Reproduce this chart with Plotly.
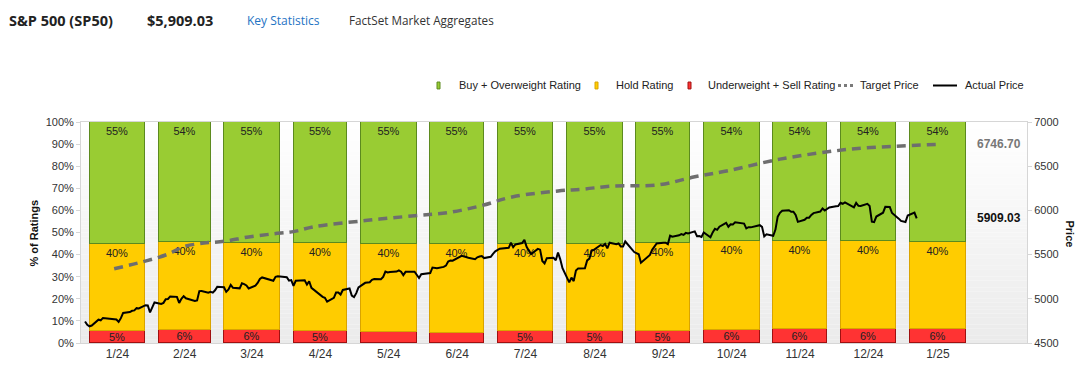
import pandas as pd
import plotly.graph_objects as go

# ---------------- data ----------------
month_starts = pd.date_range("2024-01-01", periods=13, freq="MS")
month_labels = ["1/24", "2/24", "3/24", "4/24", "5/24", "6/24", "7/24",
                "8/24", "9/24", "10/24", "11/24", "12/24", "1/25"]
buy_pct = [55.1, 54.3, 54.6, 54.6, 55.1, 55.1, 55.1, 55.1, 54.6, 53.8, 53.9, 53.9, 54.2]
hold_pct = [39.5, 39.7, 39.5, 40.0, 40.0, 40.3, 39.5, 39.5, 40.0, 40.4, 39.8, 39.8, 39.5]
sell_pct = [5.4, 6.0, 5.9, 5.4, 4.9, 4.6, 5.4, 5.4, 5.4, 5.8, 6.3, 6.3, 6.3]

market_holidays = ["2024-01-15", "2024-02-19", "2024-03-29", "2024-05-27", "2024-06-19",
                   "2024-07-04", "2024-09-02", "2024-11-28", "2024-12-25", "2025-01-01"]
actual_price = [
    # Jan 2024
    4742.83, 4704.81, 4688.68, 4697.24, 4763.54, 4756.50, 4783.45, 4780.24, 4783.83, 4765.98,
    4739.21, 4780.94, 4839.81, 4850.43, 4864.60, 4868.55, 4894.16, 4890.97, 4927.93, 4924.97, 4845.65,
    # Feb
    4906.19, 4958.61, 4942.81, 4954.23, 4995.06, 4997.91, 5026.61, 5021.84, 4953.17, 5000.62,
    5029.73, 5005.57, 4975.51, 4981.80, 5087.03, 5088.80, 5069.53, 5078.18, 5069.76, 5096.27,
    # Mar
    5137.08, 5130.95, 5078.65, 5104.76, 5157.36, 5123.69, 5117.94, 5175.27, 5165.31, 5150.48,
    5117.09, 5149.42, 5178.51, 5224.62, 5241.53, 5234.18, 5218.19, 5203.58, 5248.49, 5254.35,
    # Apr
    5243.77, 5205.81, 5211.49, 5147.21, 5204.34, 5202.39, 5209.91, 5160.64, 5199.06, 5123.41,
    5061.82, 5051.41, 5022.21, 5011.12, 4967.23, 5010.60, 5070.55, 5071.63, 5048.42, 5099.96,
    5116.17, 5035.69,
    # May
    5018.39, 5064.20, 5127.79, 5180.74, 5187.70, 5187.67, 5214.08, 5222.68, 5221.42, 5246.68,
    5308.15, 5297.10, 5303.27, 5308.13, 5321.41, 5307.01, 5267.84, 5304.72, 5306.04, 5266.95,
    5235.48, 5277.51,
    # Jun
    5283.40, 5291.34, 5354.03, 5352.96, 5346.99, 5360.79, 5375.32, 5421.03, 5433.74, 5431.60,
    5473.23, 5487.03, 5473.17, 5464.62, 5447.87, 5469.30, 5477.90, 5482.87, 5460.48,
    # Jul
    5475.09, 5509.01, 5537.02, 5567.19, 5572.85, 5576.98, 5633.91, 5584.54, 5615.35, 5631.22,
    5667.20, 5588.27, 5544.59, 5505.00, 5564.41, 5555.74, 5427.13, 5399.22, 5459.10, 5463.54,
    5436.44, 5522.30,
    # Aug
    5446.68, 5346.56, 5186.33, 5240.03, 5199.50, 5319.31, 5344.16, 5344.39, 5434.43, 5455.21,
    5543.22, 5554.25, 5608.25, 5597.12, 5620.85, 5570.64, 5634.61, 5616.84, 5625.80, 5592.18,
    5591.96, 5648.40,
    # Sep
    5528.93, 5520.07, 5503.41, 5408.42, 5471.05, 5495.52, 5554.13, 5595.76, 5626.02, 5633.09,
    5634.58, 5618.26, 5713.64, 5702.55, 5718.57, 5732.93, 5722.26, 5745.37, 5738.17, 5762.48,
    # Oct
    5708.75, 5709.54, 5699.94, 5751.07, 5695.94, 5751.13, 5792.04, 5780.05, 5815.03, 5859.85,
    5815.26, 5842.47, 5841.47, 5864.67, 5853.98, 5851.20, 5797.42, 5809.86, 5808.12, 5823.52,
    5832.92, 5813.67, 5705.45,
    # Nov
    5728.80, 5712.69, 5782.76, 5929.04, 5973.10, 5995.54, 6001.35, 5983.99, 5985.38, 5949.17,
    5870.62, 5893.62, 5916.98, 5917.11, 5948.71, 5969.34, 5987.37, 6021.63, 5998.74, 6032.38,
    # Dec
    6047.15, 6049.88, 6086.49, 6075.11, 6090.27, 6052.85, 6034.91, 6084.19, 6051.25, 6051.09,
    6074.08, 6050.61, 5872.16, 5867.08, 5930.85, 5974.07, 6040.04, 6037.59, 5970.84, 5906.94,
    5881.63,
    # Jan 2025
    5868.55, 5942.47, 5975.38, 5909.03,
]

target_dates = ["2024-01-15", "2024-01-28", "2024-02-08", "2024-02-15", "2024-02-24",
                "2024-03-04", "2024-03-15", "2024-03-26", "2024-04-04", "2024-04-13",
                "2024-05-06", "2024-05-28", "2024-06-12", "2024-06-27", "2024-07-11",
                "2024-07-31", "2024-08-11", "2024-08-24", "2024-09-14", "2024-09-30",
                "2024-10-15", "2024-11-07", "2024-11-29", "2024-12-14", "2025-01-17"]
target_price = [5340, 5420, 5505, 5590, 5630, 5650, 5700, 5735, 5760, 5815,
                5885, 5940, 5975, 6055, 6155, 6220, 6240, 6275, 6290, 6380,
                6450, 6580, 6665, 6705, 6746.70]

# ---------------- derived ----------------
price_dates = pd.bdate_range("2024-01-02", "2025-01-07")
price_dates = price_dates[~price_dates.isin(pd.to_datetime(market_holidays))]

days_in_month = month_starts.days_in_month
bar_centers = [m + pd.Timedelta(days=d / 2) for m, d in zip(month_starts, days_in_month)]
bar_widths = [0.8 * d * 86400000 for d in days_in_month]

def pct_labels(vals):
    return [f"{v:.0f}%" if v >= 5 else "" for v in vals]

# ---------------- layout geometry ----------------
# the page body adds an 8px margin, so the figure is drawn 8px right/down
OFF = 8
W, H = 1086 - OFF, 373 - OFF
L, R, T, B = 81 - OFF, 1027 - OFF, 122 - OFF, 346 - OFF

def px(x):
    return (x - OFF - L) / (R - L)

def py(y):
    return (B - (y - OFF)) / (B - T)

FONT = "Arial"

fig = go.Figure()

bar_common = dict(x=bar_centers, width=bar_widths, textposition="inside",
                  constraintext="none", textangle=0, cliponaxis=False,
                  textfont=dict(family=FONT, size=11, color="#222222"),
                  hoverinfo="skip", showlegend=False)

fig.add_trace(go.Bar(y=sell_pct, text=pct_labels(sell_pct), insidetextanchor="middle",
                     marker=dict(color="#ff3333", line=dict(color="#a01010", width=1)),
                     name="Underweight + Sell Rating", **bar_common))
fig.add_trace(go.Bar(y=hold_pct, text=pct_labels(hold_pct), insidetextanchor="end",
                     marker=dict(color="#ffcc00", line=dict(color="#d9a400", width=1)),
                     name="Hold Rating", **bar_common))
fig.add_trace(go.Bar(y=buy_pct, text=pct_labels(buy_pct), insidetextanchor="end",
                     marker=dict(color="#99cc33", line=dict(color="#5c8a1e", width=1)),
                     name="Buy + Overweight Rating", **bar_common))

fig.add_trace(go.Scatter(x=pd.to_datetime(target_dates), y=target_price, yaxis="y2",
                         mode="lines", line=dict(color="#6e6e6e", width=3.5, dash="9px,6px", shape="spline"),
                         name="Target Price", showlegend=False, hoverinfo="skip"))
fig.add_trace(go.Scatter(x=price_dates, y=actual_price, yaxis="y2",
                         mode="lines", line=dict(color="#000000", width=2),
                         name="Actual Price", showlegend=False, hoverinfo="skip"))

# background gradient
shapes = []
N = 60
for i in range(N):
    f = i / (N - 1)
    c = int(round(255 - 20 * f))
    shapes.append(dict(type="rect", xref="paper", yref="paper", layer="below",
                       x0=0, x1=1, y0=1 - (i + 1) / N, y1=1 - i / N,
                       line=dict(width=0), fillcolor=f"rgb({c},{c},{c})"))

# manual legend
leg_y = 85
for x0, fill, edge in [(437, "#99cc33", "#5c8a1e"), (595, "#ffcc00", "#d9a400"), (688, "#ff3333", "#a01010")]:
    shapes.append(dict(type="rect", xref="paper", yref="paper", x0=px(x0), x1=px(x0 + 3),
                       y0=py(leg_y + 3.5), y1=py(leg_y - 3.5), fillcolor=fill,
                       line=dict(color=edge, width=1)))
shapes.append(dict(type="line", xref="paper", yref="paper", x0=px(838), x1=px(855),
                   y0=py(leg_y), y1=py(leg_y), line=dict(color="#7a7a7a", width=3, dash="3px,3px")))
shapes.append(dict(type="line", xref="paper", yref="paper", x0=px(933), x1=px(957),
                   y0=py(leg_y), y1=py(leg_y), line=dict(color="#000000", width=2)))

annotations = []
for x0, txt in [(457, "Buy + Overweight Rating"), (614, "Hold Rating"),
                (706, "Underweight + Sell Rating"), (858, "Target Price"), (963, "Actual Price")]:
    annotations.append(dict(xref="paper", yref="paper", x=px(x0), y=py(leg_y), text=txt,
                            xanchor="left", yanchor="middle", showarrow=False,
                            font=dict(family=FONT, size=11, color="#222222")))

# header
HFONT = "Open Sans, sans-serif"
for x0, txt, col, size in [(7, "<b>S&amp;P 500 (SP50)</b>", "#222222", 14.5),
                           (145, "<b>$5,909.03</b>", "#222222", 14.5),
                           (245, "Key Statistics", "#1f74c4", 12),
                           (347, "FactSet Market Aggregates", "#333333", 11.7)]:
    annotations.append(dict(xref="paper", yref="paper", x=px(x0), y=py(19), text=txt,
                            xanchor="left", yanchor="middle", showarrow=False,
                            font=dict(family=HFONT, size=size, color=col)))

# end-value labels
annotations.append(dict(xref="paper", yref="y2", x=1, xshift=-4, y=target_price[-1],
                        text=f"<b>{target_price[-1]:.2f}</b>", xanchor="right", yanchor="middle",
                        showarrow=False, font=dict(family=FONT, size=12, color="#777777")))
annotations.append(dict(xref="paper", yref="y2", x=1, xshift=-4, y=actual_price[-1],
                        text=f"<b>{actual_price[-1]:.2f}</b>", xanchor="right", yanchor="middle",
                        showarrow=False, font=dict(family=FONT, size=12, color="#111111")))
# axis titles
annotations.append(dict(xref="paper", yref="paper", x=px(34), y=py(235), text="<b>% of Ratings</b>",
                        textangle=-90, showarrow=False, xanchor="center", yanchor="middle",
                        font=dict(family=FONT, size=11, color="#111111")))
annotations.append(dict(xref="paper", yref="paper", x=px(1070), y=py(235), text="<b>Price</b>",
                        textangle=90, showarrow=False, xanchor="center", yanchor="middle",
                        font=dict(family=FONT, size=11, color="#111111")))

fig.update_layout(
    width=W, height=H,
    margin=dict(l=L, r=W - R, t=T, b=H - B, pad=0),
    paper_bgcolor="#ffffff", plot_bgcolor="#ffffff",
    barmode="stack", bargap=0,
    showlegend=False,
    font=dict(family=FONT, size=11, color="#333333"),
    shapes=shapes, annotations=annotations,
    xaxis=dict(type="date", range=["2023-12-31 05:00", "2025-02-25 05:00"],
               tickvals=bar_centers, ticktext=month_labels, ticks="",
               showgrid=False, zeroline=False, showline=True, linecolor="#d6d6d6",
               linewidth=1, mirror=True, tickfont=dict(family=FONT, size=12, color="#333333")),
    yaxis=dict(range=[0, 100], tickvals=list(range(0, 101, 10)),
               ticktext=[f"{v}%" for v in range(0, 101, 10)],
               ticks="outside", ticklen=4, tickcolor="#d6d6d6",
               showgrid=False, zeroline=False, showline=True, linecolor="#d6d6d6",
               tickfont=dict(family=FONT, size=11, color="#333333")),
    yaxis2=dict(range=[4500, 7000], overlaying="y", side="right",
                tickvals=[4500, 5000, 5500, 6000, 6500, 7000],
                ticks="outside", ticklen=4, tickcolor="#d6d6d6",
                showgrid=False, zeroline=False, showline=True, linecolor="#d6d6d6",
                tickfont=dict(family=FONT, size=11, color="#333333")),
)

fig.write_html("out.html")
